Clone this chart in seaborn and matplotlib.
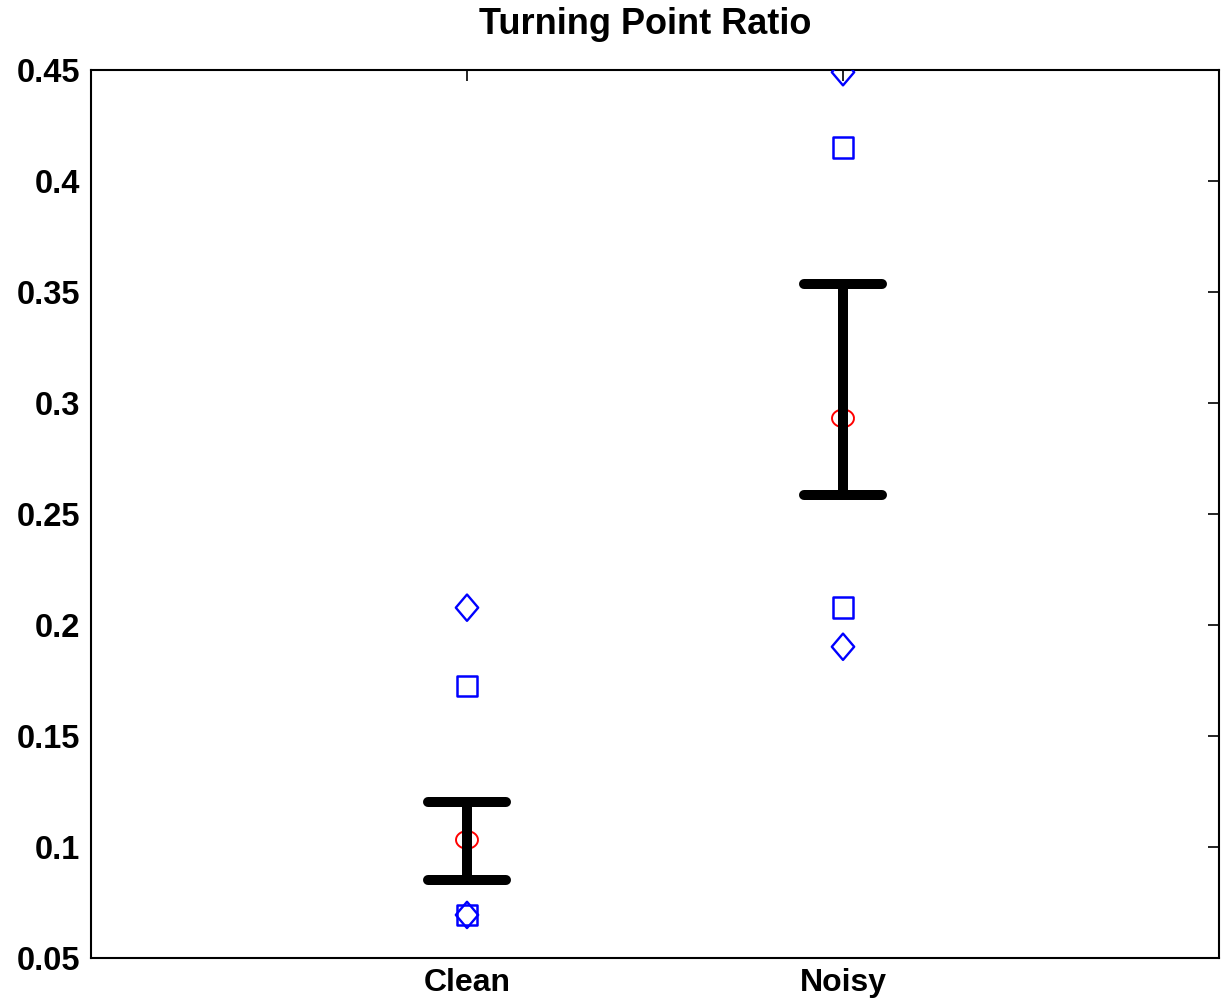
import numpy as np
import pandas as pd
import matplotlib
matplotlib.use("Agg")
import matplotlib.pyplot as plt
from matplotlib.path import Path
from matplotlib.markers import MarkerStyle
import seaborn as sns

# Turning point ratio per condition
groups = ["Clean", "Noisy"]
mean_ratio = [0.1032, 0.2931]
ci_low = [0.0851, 0.2586]
ci_high = [0.1204, 0.3535]
square_vals_hi = [0.1725, 0.4152]
square_vals_lo = [0.0694, 0.2080]
diamond_vals_hi = [0.2078, 0.4490]
diamond_vals_lo = [0.0694, 0.1902]
y_ticks = [0.05, 0.1, 0.15, 0.2, 0.25, 0.3, 0.35, 0.4, 0.45]

sns.set_theme(style="white")
plt.rcParams["font.family"] = ["Liberation Sans", "DejaVu Sans"]
plt.rcParams["font.weight"] = "bold"

pos = np.arange(len(groups)) + 1

fig = plt.figure(figsize=(12.25, 10.08), dpi=100)
ax = fig.add_axes([91 / 1225, 1 - 958 / 1008, (1219 - 91) / 1225, (958 - 70) / 1008])

squares = pd.DataFrame({"pos": np.concatenate([pos, pos]),
                        "val": square_vals_hi + square_vals_lo})
diamonds = pd.DataFrame({"pos": np.concatenate([pos, pos]),
                         "val": diamond_vals_hi + diamond_vals_lo})
means = pd.DataFrame({"pos": pos, "val": mean_ratio})

# marker shapes
diamond_marker = Path([(0, 1), (0.85, 0), (0, -1), (-0.85, 0), (0, 1)],
                      [Path.MOVETO, Path.LINETO, Path.LINETO, Path.LINETO, Path.CLOSEPOLY])
t = np.linspace(0, 2 * np.pi, 60)
ellipse_marker = Path(np.column_stack([np.cos(t), 0.8 * np.sin(t)]))

sns.scatterplot(data=diamonds, x="pos", y="val", ax=ax, marker=diamond_marker,
                s=360, facecolor="none", edgecolor="#0000ff", linewidth=1.7, zorder=3)
sns.scatterplot(data=squares, x="pos", y="val", ax=ax, marker="s",
                s=220, facecolor="none", edgecolor="#0000ff", linewidth=1.8, zorder=3)
sns.scatterplot(data=means, x="pos", y="val", ax=ax, marker=ellipse_marker,
                s=250, facecolor="none", edgecolor="#ff0000", linewidth=1.4, zorder=3)

lower = np.array(mean_ratio) - np.array(ci_low)
upper = np.array(ci_high) - np.array(mean_ratio)
eb = ax.errorbar(pos, mean_ratio, yerr=[lower, upper], fmt="none", ecolor="black",
                 elinewidth=7.2, capsize=28, capthick=7.2, zorder=4)
for cap in eb[1]:
    cap.set_marker(MarkerStyle("_", capstyle="round"))

ax.set_xlim(0, 3)
ax.set_ylim(0.05, 0.45)
ax.set_xticks(pos)
ax.set_xticklabels(groups)
ax.set_yticks(y_ticks)
ax.set_yticklabels([f"{v:g}" for v in y_ticks])
ax.set_xlabel("")
ax.set_ylabel("")

for s in ax.spines.values():
    s.set_visible(True)
    s.set_color("black")
    s.set_linewidth(1.5)

ax.tick_params(axis="both", direction="in", length=8, width=1.2, color="black",
               top=True, right=True, labelcolor="black")
ax.tick_params(axis="y", labelsize=23.5, pad=8)
ax.tick_params(axis="x", labelsize=23, pad=7)
for lab in ax.get_xticklabels() + ax.get_yticklabels():
    lab.set_fontweight("bold")

ax.set_title("Turning Point Ratio", fontsize=26, fontweight="bold", pad=26,
             color="black", x=0.491)

fig.savefig("out.png", dpi=100, facecolor="white")
